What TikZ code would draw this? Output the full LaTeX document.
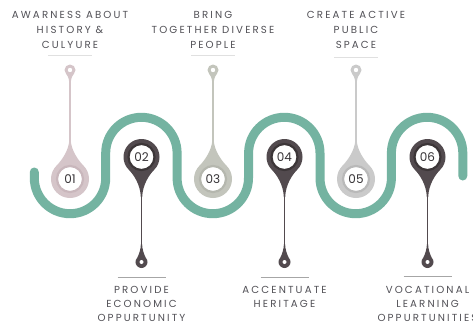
\documentclass[tikz,border=0pt]{standalone}
\usepackage{fontspec}
\setmainfont{Poppins}
\definecolor{wavecol}{HTML}{74B3A1}
\definecolor{darkpin}{HTML}{524A4E}
\definecolor{darkring}{HTML}{3C3638}
\definecolor{pinA}{HTML}{D5C5C9}
\definecolor{ringA}{HTML}{C9B7BC}
\definecolor{pinC}{HTML}{C3C5BC}
\definecolor{ringC}{HTML}{B5B7AE}
\definecolor{pinE}{HTML}{CACACA}
\definecolor{ringE}{HTML}{B9B9B9}
\definecolor{labeltxt}{HTML}{525157}
\definecolor{numtxt}{HTML}{363336}
\tikzset{
  numc/.style={circle, fill=white, draw=#1, line width=2.2pt, minimum size=26pt, inner sep=0pt,
    font=\fontsize{12}{12}\selectfont, text=numtxt},
  lbl/.style={align=center, text=labeltxt, font=\fontsize{10.2}{15}\selectfont\addfontfeature{LetterSpace=21}},
  lblb/.style={lbl, font=\fontsize{10.2}{14}\selectfont\addfontfeature{LetterSpace=21}},
  toprule/.style={draw=black!12, line width=0.8pt},
  botrule/.style={draw=black!35, line width=0.8pt},
  stem/.style={line width=1.1pt, line cap=round},
  wave/.style={draw=wavecol, line width=9pt, line cap=round},
}
% lower pin: big circle up (y=173), stem down to drop at y=68
\newcommand\lowpin[5]{%
  \fill[#2] (#1+12.73,160.27) arc[start angle=-45,end angle=225,radius=18]
    .. controls (#1-7.7,155.3) and (#1-1,145) .. (#1-0.7,133)
    -- (#1+0.7,133) .. controls (#1+1,145) and (#1+7.7,155.3) .. cycle;
  \draw[stem,#2] (#1,134) -- (#1,84);
  \fill[#2] (#1+4.24,72.24) arc[start angle=45,end angle=-225,radius=6]
    .. controls (#1-2.2,76.3) and (#1-0.7,81) .. (#1-0.6,86)
    -- (#1+0.6,86) .. controls (#1+0.7,81) and (#1+2.2,76.3) .. cycle;
  \fill[white] (#1,68) circle[radius=2];
  \node[numc=#3] (#4) at (#1,173) {#5};
}
% upper pin: big circle down (y=151), stem up to ring at y=260
\newcommand\uppin[5]{%
  \fill[#2] (#1-13.43,164.43) arc[start angle=135,end angle=405,radius=19]
    .. controls (#1+8.4,169.4) and (#1+1,180) .. (#1+0.7,190)
    -- (#1-0.7,190) .. controls (#1-1,180) and (#1-8.4,169.4) .. cycle;
  \draw[stem,#2] (#1,189) -- (#1,250);
  \fill[#2] (#1+3.9,256.1) arc[start angle=-45,end angle=225,radius=5.5]
    .. controls (#1-1.4,253.6) and (#1-0.7,249) .. (#1-0.6,246)
    -- (#1+0.6,246) .. controls (#1+0.7,249) and (#1+1.4,253.6) .. cycle;
  \fill[white] (#1,260) circle[radius=2.2];
  \node[numc=#3] (#4) at (#1,151) {#5};
}
\begin{document}
\begin{tikzpicture}[x=1pt,y=1pt]
\useasboundingbox (0,0) rectangle (473,330);
\fill[white] (0,0) rectangle (473,330);
% wave
\draw[wave]
  (34.3,158) -- (34.3,152) arc[start angle=180,end angle=360,radius=35.7]
  -- (105.7,177) arc[start angle=180,end angle=0,radius=35.7]
  -- (177.1,152) arc[start angle=180,end angle=360,radius=35.7]
  -- (248.6,177) arc[start angle=180,end angle=0,radius=35.7]
  -- (320,152) arc[start angle=180,end angle=360,radius=35.7]
  -- (391.4,177) arc[start angle=180,end angle=0,radius=35.7]
  -- (462.8,154);
% pins
\uppin{70}{pinA}{ringA}{p1}{01}
\lowpin{141.5}{darkpin}{darkring}{p2}{02}
\uppin{213}{pinC}{ringC}{p3}{03}
\lowpin{284.5}{darkpin}{darkring}{p4}{04}
\uppin{356}{pinE}{ringE}{p5}{05}
\lowpin{427.5}{darkpin}{darkring}{p6}{06}
% top labels
\node[lbl] (t1) at (70,300) {AWARNESS ABOUT\\HISTORY \&\\CULYURE};
\node[lbl] (t3) at (213,300) {BRING\\TOGETHER DIVERSE\\PEOPLE};
\node[lbl] (t5) at (356,300) {CREATE ACTIVE\\PUBLIC\\SPACE};
\draw[toprule] (48,275) -- (92,275);
\draw[toprule] (191,275) -- (235,275);
\draw[toprule] (334,273) -- (378,273);
% bottom labels
\draw[botrule] (117.5,53) -- (165.5,53);
\draw[botrule] (260.5,53) -- (308.5,53);
\draw[botrule] (403.5,54) -- (451.5,54);
\node[lblb] (b2) at (141.5,26) {PROVIDE\\ECONOMIC\\OPPURTUNITY};
\node[lblb] (b4) at (284.5,33) {ACCENTUATE\\HERITAGE};
\node[lblb] (b6) at (427.5,26) {VOCATIONAL\\LEARNING\\OPPURTUNITIES};
\end{tikzpicture}
\end{document}
